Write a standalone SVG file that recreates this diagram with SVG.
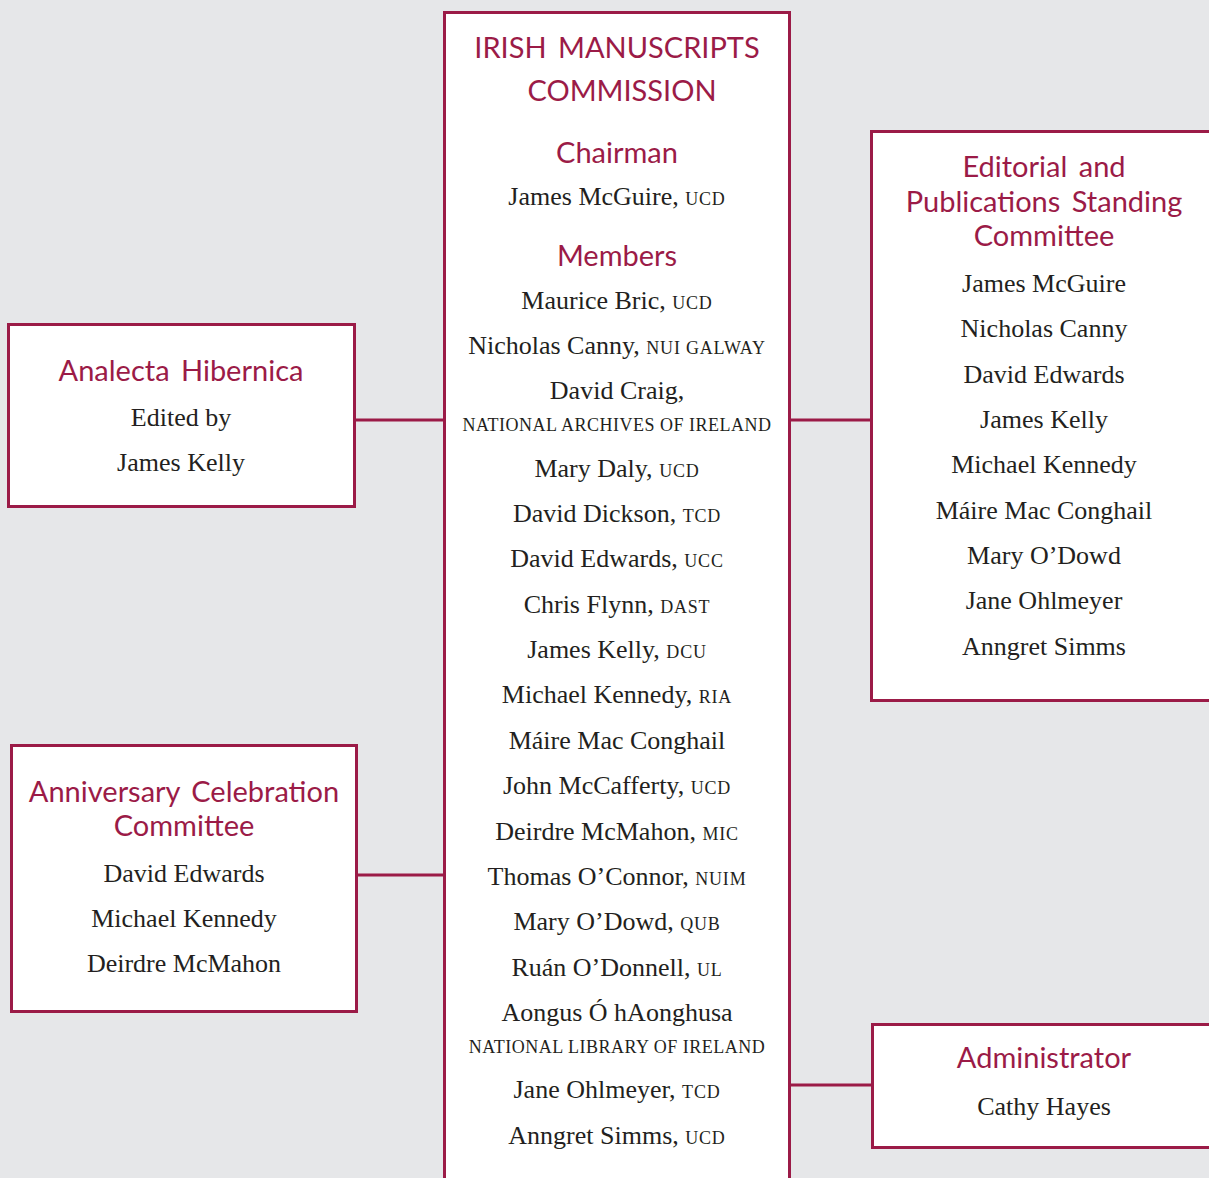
<svg xmlns="http://www.w3.org/2000/svg" width="1209" height="1178" viewBox="0 0 1209 1178">
<style>
.box{fill:#fff;stroke:#9b1b47;stroke-width:3}
.con{stroke:#9b1b47;stroke-width:3;fill:none}
.t{font-family:Lato,"Open Sans",sans-serif;font-size:29px;fill:#9b1b47;text-anchor:middle;word-spacing:4px}
.b{font-family:"Liberation Serif",serif;font-size:26px;fill:#231f20;text-anchor:middle}
.sc{font-size:18px;letter-spacing:0.8px}
.scl{font-family:"Liberation Serif",serif;font-size:18px;letter-spacing:0.5px;fill:#231f20;text-anchor:middle}
</style>
<rect width="1209" height="1178" fill="#e6e7e9"/>
<g id="connectors">
<line class="con" x1="355" y1="420" x2="445" y2="420"/>
<line class="con" x1="789" y1="420" x2="872" y2="420"/>
<line class="con" x1="357" y1="875" x2="445" y2="875"/>
<line class="con" x1="789" y1="1085" x2="873" y2="1085"/>
</g>
<g id="commission">
<rect class="box" x="444.5" y="12.5" width="345" height="1180"/>
<text class="t" x="617" y="58">IRISH MANUSCRIPTS</text>
<text class="t" x="622" y="101">COMMISSION</text>
<text class="t" x="617" y="163">Chairman</text>
<text class="b" x="617" y="205">James McGuire, <tspan class="sc">UCD</tspan></text>
<text class="t" x="617" y="266">Members</text>
<text class="b" x="617" y="309">Maurice Bric, <tspan class="sc">UCD</tspan></text>
<text class="b" x="617" y="354">Nicholas Canny, <tspan class="sc">NUI  GALWAY</tspan></text>
<text class="b" x="617" y="399">David Craig,</text>
<text class="scl" x="617" y="431">NATIONAL ARCHIVES OF IRELAND</text>
<text class="b" x="617" y="477">Mary Daly, <tspan class="sc">UCD</tspan></text>
<text class="b" x="617" y="522">David Dickson, <tspan class="sc">TCD</tspan></text>
<text class="b" x="617" y="567">David Edwards, <tspan class="sc">UCC</tspan></text>
<text class="b" x="617" y="613">Chris Flynn, <tspan class="sc">DAST</tspan></text>
<text class="b" x="617" y="658">James Kelly, <tspan class="sc">DCU</tspan></text>
<text class="b" x="617" y="703">Michael Kennedy, <tspan class="sc">RIA</tspan></text>
<text class="b" x="617" y="749">Máire Mac Conghail</text>
<text class="b" x="617" y="794">John McCafferty, <tspan class="sc">UCD</tspan></text>
<text class="b" x="617" y="840">Deirdre McMahon, <tspan class="sc">MIC</tspan></text>
<text class="b" x="617" y="885">Thomas O’Connor, <tspan class="sc">NUIM</tspan></text>
<text class="b" x="617" y="930">Mary O’Dowd, <tspan class="sc">QUB</tspan></text>
<text class="b" x="617" y="976">Ruán O’Donnell, <tspan class="sc">UL</tspan></text>
<text class="b" x="617" y="1021">Aongus Ó hAonghusa</text>
<text class="scl" x="617" y="1053">NATIONAL LIBRARY OF IRELAND</text>
<text class="b" x="617" y="1098">Jane Ohlmeyer, <tspan class="sc">TCD</tspan></text>
<text class="b" x="617" y="1144">Anngret Simms, <tspan class="sc">UCD</tspan></text>
</g>
<g id="analecta">
<rect class="box" x="8.5" y="324.5" width="346" height="182"/>
<text class="t" x="181" y="381">Analecta Hibernica</text>
<text class="b" x="181" y="426">Edited by</text>
<text class="b" x="181" y="471">James Kelly</text>
</g>
<g id="anniversary">
<rect class="box" x="11.5" y="745.5" width="345" height="266"/>
<text class="t" x="184" y="802">Anniversary Celebration</text>
<text class="t" x="184" y="836">Committee</text>
<text class="b" x="184" y="882">David Edwards</text>
<text class="b" x="184" y="927">Michael Kennedy</text>
<text class="b" x="184" y="972">Deirdre McMahon</text>
</g>
<g id="editorial">
<rect class="box" x="871.5" y="131.5" width="360" height="569"/>
<text class="t" x="1044" y="177">Editorial and</text>
<text class="t" x="1044" y="212">Publications Standing</text>
<text class="t" x="1044" y="246">Committee</text>
<text class="b" x="1044" y="292">James McGuire</text>
<text class="b" x="1044" y="337">Nicholas Canny</text>
<text class="b" x="1044" y="383">David Edwards</text>
<text class="b" x="1044" y="428">James Kelly</text>
<text class="b" x="1044" y="473">Michael Kennedy</text>
<text class="b" x="1044" y="519">Máire Mac Conghail</text>
<text class="b" x="1044" y="564">Mary O’Dowd</text>
<text class="b" x="1044" y="609">Jane Ohlmeyer</text>
<text class="b" x="1044" y="655">Anngret Simms</text>
</g>
<g id="administrator">
<rect class="box" x="872.5" y="1024.5" width="360" height="123"/>
<text class="t" x="1044" y="1068">Administrator</text>
<text class="b" x="1044" y="1115">Cathy Hayes</text>
</g>
</svg>
